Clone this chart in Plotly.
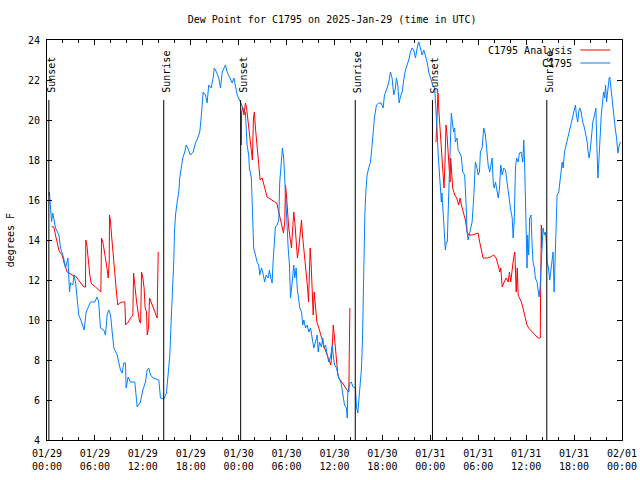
import pandas as pd
import plotly.graph_objects as go

BASE = "2025-01-29 00:00"

# Station observations (hours after BASE, dew point in F)
obs_hours = [0.23, 0.3, 0.57, 0.72, 1.07, 1.49, 1.69, 2.09, 2.32, 2.62, 2.82, 2.95, 3.24, 3.37, 3.57, 3.78, 3.98,
             4.32, 4.65, 4.9, 5.15, 5.45, 5.98, 6.27, 6.47, 6.69, 7.11, 7.32, 7.53, 7.74, 7.95, 8.16, 8.37, 8.79,
             8.99, 9.2, 9.41, 9.62, 9.83, 9.91, 10.16, 10.46, 11.0, 11.29, 11.7, 12.0, 12.33, 12.54, 12.74, 12.96,
             13.29, 14.0, 14.21, 14.63, 14.96, 15.13, 15.38, 15.54, 15.76, 15.88, 15.96, 16.09, 16.3, 16.5, 16.62,
             16.8, 17.0, 17.25, 17.42, 17.63, 17.95, 18.3, 18.59, 18.88, 19.13, 19.3, 19.43, 19.55, 19.85, 20.05,
             20.25, 20.55, 20.8, 20.95, 21.22, 21.51, 21.72, 21.94, 22.23, 22.35, 22.56, 22.89, 23.19, 23.4, 23.61,
             23.82, 24.1,
             24.43, 24.63, 24.84, 24.97, 25.05, 25.26, 25.34, 25.59, 25.68, 25.88, 26.1, 26.31, 26.51, 26.64, 26.85,
             27.01, 27.26, 27.44, 27.69, 27.85, 28.02, 28.19, 28.31, 28.44, 28.6, 28.81, 29.02, 29.14, 29.32, 29.48,
             29.64, 29.77, 29.95, 30.07, 30.2, 30.36, 30.49, 30.7, 30.9, 31.03, 31.2, 31.33, 31.53, 31.66, 31.87,
             32.03, 32.16, 32.37, 32.58, 32.79, 33.0, 33.2, 33.41, 33.62, 33.83, 33.96, 34.12, 34.37, 34.54, 34.66,
             34.88, 35.09, 35.29, 35.5, 35.72, 35.84, 36.0, 36.25, 36.54, 36.83, 37.04, 37.25, 37.5, 37.59, 37.67,
             37.92, 38.09, 38.34, 38.63, 38.75, 38.92, 39.09, 39.25, 39.38, 39.51, 39.59, 39.67, 39.8, 39.92, 40.08,
             40.29, 40.5, 40.71, 40.84, 41.0, 41.25, 41.54, 41.84, 42.09, 42.26, 42.51, 42.8, 43.0, 43.21, 43.42,
             43.63, 43.75, 43.92, 44.09, 44.25, 44.47, 44.67, 44.88, 45.09, 45.3, 45.51, 45.72, 45.92, 46.14, 46.35,
             46.55, 46.76, 46.97, 47.18, 47.39, 47.6, 47.8, 47.99,
             48.29, 48.54, 48.75, 48.88, 48.96, 49.13, 49.25, 49.38, 49.46, 49.59, 49.75, 49.88, 50.0, 50.13, 50.21,
             50.38, 50.51, 50.63, 50.8, 50.92, 51.05, 51.13, 51.34, 51.47, 51.63, 51.89, 52.05, 52.3, 52.48, 52.6,
             52.73, 52.89, 53.1, 53.23, 53.43, 53.56, 53.64, 53.86, 53.98, 54.15, 54.27, 54.48, 54.69, 54.9, 55.11,
             55.24, 55.44, 55.62, 55.74, 55.87, 55.99, 56.16, 56.32, 56.5, 56.66, 56.82, 57.0, 57.19, 57.41, 57.62,
             57.82, 58.03, 58.25, 58.37, 58.5, 58.66, 58.79, 59.0, 59.16, 59.37, 59.58, 59.7, 59.8, 59.9, 60.03,
             60.11, 60.19, 60.32, 60.44, 60.61, 60.74, 60.86, 61.03, 61.15, 61.36, 61.49, 61.61, 61.74, 61.86, 61.99,
             62.11, 62.28, 62.4, 62.53, 62.62, 62.79, 62.95, 63.13, 63.25, 63.37, 63.5, 63.62, 63.71, 63.87, 64.08,
             64.21, 64.38, 64.51, 64.63, 64.8, 65.0, 65.2, 65.45, 65.63, 65.83, 66.04, 66.17, 66.29, 66.46, 66.58,
             66.71, 66.88, 67.08, 67.3, 67.46, 67.64, 67.76, 67.89, 68.05, 68.18, 68.35, 68.56, 68.73, 68.85, 68.98,
             69.1, 69.23, 69.4, 69.57, 69.69, 69.82, 69.94, 70.07, 70.22, 70.39, 70.47, 70.65, 70.81, 70.98, 71.15,
             71.32, 71.48, 71.66, 71.82]
obs_dewpt = [16.25, 16.4, 14.9, 15.35, 14.6, 14.25, 13.6, 13.1, 12.6, 13.1, 11.4, 11.85, 11.75, 12.25, 11.9, 10.9, 10.25,
             9.9, 9.5, 10.4, 10.6, 10.9, 10.9, 11.15, 10.9, 9.6, 9.5, 9.25, 10.25, 10.5, 10.25, 9.4, 8.6, 8.25,
             7.9, 7.5, 7.35, 7.85, 7.85, 6.6, 7.15, 6.9, 6.9, 5.65, 5.9, 6.5, 6.9, 7.5, 7.6, 7.25,
             7.1, 7.0, 6.1, 6.05, 6.35, 7.25, 8.25, 9.9, 11.6, 13.0, 14.4, 15.25, 15.9, 16.4, 17.1,
             17.6, 18.1, 18.4, 18.75, 18.6, 18.25, 18.4, 18.85, 19.1, 19.4, 20.1, 20.9, 21.4, 21.25, 20.85,
             21.75, 21.6, 22.1, 22.6, 22.4, 22.1, 21.6, 22.4, 22.65, 22.75, 22.4, 22.15, 21.85, 22.1, 21.65,
             21.25, 21.0,
             20.65, 20.5, 20.4, 19.6, 18.75, 18.25, 17.6, 17.1, 15.6, 13.6, 13.25, 12.9, 12.75, 12.25, 12.6,
             12.4, 11.9, 12.25, 12.1, 12.5, 12.1, 11.85, 12.9, 13.9, 14.65, 14.75, 15.0, 16.9, 17.9, 18.6,
             18.1, 16.9, 15.6, 14.6, 13.6, 12.75, 11.1, 11.9, 12.75, 12.1, 12.6, 11.6, 11.1, 10.6, 10.4,
             9.75, 10.0, 9.6, 9.75, 9.4, 9.6, 9.1, 8.6, 8.9, 9.25, 8.4, 8.9, 8.65, 9.1, 8.6,
             8.75, 8.25, 7.9, 8.15, 8.75, 8.25, 7.75, 7.6, 7.1, 6.85, 6.25, 5.75, 5.6, 5.1, 6.4,
             6.85, 6.9, 6.65, 6.6, 5.65, 5.35, 6.25, 6.9, 7.6, 9.1, 11.25, 13.25, 15.25, 16.4, 17.25,
             17.6, 17.9, 18.75, 19.4, 20.1, 20.75, 20.85, 20.85, 20.6, 21.25, 21.5, 21.9, 22.4, 22.1, 21.25,
             21.6, 22.1, 21.75, 20.85, 21.15, 21.4, 22.0, 22.5, 22.75, 23.0, 23.4, 23.6, 23.5, 23.1, 23.6,
             23.9, 23.6, 23.25, 23.5, 23.25, 22.9, 22.4, 22.1,
             21.75, 21.6, 20.4, 19.25, 18.4, 17.25, 16.25, 15.9, 16.35, 15.6, 14.25, 13.5, 13.9, 13.9, 15.1,
             17.6, 19.6, 20.35, 19.75, 19.4, 19.6, 18.9, 19.1, 18.5, 18.4, 18.15, 17.4, 17.25, 15.75, 14.4,
             14.0, 14.35, 14.6, 14.9, 16.1, 17.25, 17.9, 17.6, 17.25, 17.4, 18.4, 18.6, 19.6, 19.25, 18.25,
             17.75, 17.4, 17.75, 18.1, 16.9, 16.6, 16.9, 16.4, 16.1, 16.6, 17.75, 17.25, 17.6, 17.5, 16.75,
             16.25, 15.6, 15.1, 14.1, 14.9, 17.6, 18.1, 17.9, 18.35, 18.4, 17.9, 19.0, 17.9, 15.75, 13.6,
             12.6, 14.25, 13.25, 15.1, 15.25, 13.75, 12.9, 12.6, 12.1, 11.9, 11.4, 11.15, 11.6, 12.9, 13.75,
             14.6, 14.25, 14.4, 13.9, 12.9, 12.6, 12.0, 12.6, 12.9, 13.4, 11.4, 12.9, 14.9, 16.25, 16.4,
             16.9, 17.6, 17.9, 17.6, 18.4, 18.75, 19.1, 19.4, 19.75, 20.1, 20.6, 20.75, 20.25, 19.9, 20.4,
             20.6, 20.4, 19.9, 19.6, 19.25, 18.9, 18.4, 18.1, 18.6, 19.4, 19.9, 20.25, 20.6, 18.75, 17.1,
             17.9, 19.25, 20.25, 20.9, 21.4, 21.1, 21.75, 20.9, 21.6, 22.1, 22.15, 21.4, 20.9, 20.25, 19.6,
             19.1, 18.35, 18.75, 18.9]

# Analysis (None marks a break between night-time segments)
ana_hours = [0.56, 0.85, 1.06, 1.27, 1.48, 1.68, 1.89, 2.11, 2.31, 2.52, 2.73, 3.15, 3.57, 3.98, 4.32, 4.61, 4.82,
             4.86, 4.99, 5.07, 5.24, 5.36, 5.53, 5.74, 6.08, 6.49, 6.74, 6.83, 6.99, 7.16, 7.33, 7.49, 7.66, 7.79,
             7.83, 7.96, 8.08, 8.25, 8.42, 8.58, 8.75, 8.87, 9.08, 9.42, 9.75, 9.84, 10.17, 10.47, 10.75, 10.84,
             10.93, 11.09, 11.22, 11.43, 11.59, 11.72, 11.84, 12.0, 12.16, 12.29, 12.46, 12.55, 12.71, 12.84, 13.05,
             13.3, 13.55, 13.8, 13.84, 13.93, None,
             24.34, 24.36, 24.5, 24.67, 24.84, 24.97, 25.09, 25.26, 25.43, 25.59, 25.72, 25.85, 25.97, 26.1, 26.26,
             26.39, 26.56, 26.69, 26.94, 27.14, 27.35, 27.56, 27.77, 28.1, 28.52, 28.77, 28.9, 29.06, 29.23, 29.44,
             29.61, 29.77, 29.86, 29.98, 30.11, 30.27, 30.44, 30.61, 30.77, 30.9, 31.03, 31.2, 31.36, 31.53, 31.7,
             31.87, 31.99, 32.16, 32.29, 32.46, 32.63, 32.75, 32.87, 32.95, 33.08, 33.21, 33.33, 33.46, 33.62, 33.79,
             34.04, 34.25, 34.46, 34.71, 34.96, 35.21, 35.38, 35.54, 35.72, 35.84, 35.97, 36.09, 36.26, 36.42, 36.55,
             36.76, 36.97, 37.17, 37.39, 37.6, 37.8, 37.85, 37.93, None,
             48.71, 48.83, 48.96, 49.08, 49.21, 49.33, 49.46, 49.59, 49.71, 49.84, 49.96, 50.09, 50.21, 50.34, 50.47,
             50.55, 50.67, 50.8, 51.05, 51.3, 51.55, 51.73, 51.89, 52.14, 52.39, 52.6, 52.81, 53.23, 53.64, 53.98,
             54.18, 54.39, 54.6, 55.11, 55.52, 55.94, 56.24, 56.49, 56.7, 56.82, 57.0, 57.25, 57.5, 57.75, 57.91,
             58.07, 58.25, 58.42, 58.58, 58.66, 58.75, 58.88, 59.0, 59.16, 59.41, 59.66, 59.87, 60.1, 60.31, 60.52,
             60.73, 60.93, 61.14, 61.36, 61.56, 61.77, 61.81, 61.85, 61.9, 61.94]
ana_dewpt = [14.67, 14.65, 14.25, 13.9, 13.5, 13.35, 13.25, 12.9, 12.6, 12.4, 12.35, 12.25, 12.2, 12.0, 11.85, 11.65, 11.65,
             14.0, 13.75, 13.4, 12.9, 12.25, 11.85, 11.75, 11.65, 11.5, 11.4, 14.1, 13.9, 13.5, 13.1, 12.65, 12.1, 12.9,
             15.25, 14.9, 14.25, 13.4, 12.4, 11.6, 11.15, 10.75, 10.85, 10.9, 10.9, 9.75, 9.9, 10.1, 10.25, 12.35,
             12.1, 11.4, 10.9, 10.4, 9.9, 9.85, 12.4, 12.1, 11.6, 10.6, 10.4, 9.25, 9.6, 11.1, 10.9,
             10.65, 10.4, 10.1, 11.4, 13.4, None,
             18.75, 20.35, 20.65, 20.25, 20.85, 20.65, 20.25, 19.6, 19.1, 18.6, 18.0, 20.1, 20.4, 19.6, 18.9,
             18.35, 17.6, 17.0, 17.1, 16.75, 16.4, 16.15, 16.1, 16.0, 15.9, 15.85, 15.6, 15.25, 14.9, 14.6,
             14.35, 14.9, 16.75, 16.25, 15.4, 14.6, 14.1, 13.6, 14.6, 15.4, 14.9, 13.9, 13.1, 13.6, 14.15,
             15.0, 14.25, 13.6, 12.9, 12.25, 11.6, 10.9, 12.6, 13.6, 12.75, 11.6, 10.25, 11.4, 10.6, 9.9,
             9.6, 9.25, 9.0, 8.65, 8.4, 8.15, 7.9, 7.75, 8.6, 9.75, 9.25, 8.6, 7.75, 7.25, 7.1,
             7.0, 6.85, 6.75, 6.6, 6.5, 6.4, 8.4, 10.6, None,
             18.9, 20.25, 21.35, 20.4, 19.6, 18.9, 18.1, 17.4, 16.6, 17.9, 19.75, 19.25, 18.4, 17.6, 16.9,
             18.1, 17.25, 16.6, 16.25, 16.1, 15.75, 16.1, 15.75, 15.4, 15.0, 14.4, 14.25, 14.25, 14.3, 14.35,
             13.9, 13.4, 13.1, 13.1, 13.15, 13.25, 13.1, 12.75, 12.4, 12.6, 11.65, 11.9, 12.1, 11.9, 12.4,
             11.9, 12.6, 13.1, 13.4, 12.6, 11.4, 12.6, 11.25, 11.1, 10.9, 10.5, 10.2, 9.75, 9.6, 9.5,
             9.45, 9.35, 9.25, 9.15, 9.1, 9.1, 11.5, 12.9, 14.75, 13.6]

sun_times = ["2025-01-29 00:14", "2025-01-29 14:37", "2025-01-30 00:15",
             "2025-01-30 14:36", "2025-01-31 00:16", "2025-01-31 14:35"]
sun_labels = ["Sunset", "Sunrise", "Sunset", "Sunrise", "Sunset", "Sunrise"]

y_ticks = [4, 6, 8, 10, 12, 14, 16, 18, 20, 22, 24]

base = pd.Timestamp(BASE)


def to_time(hours):
    return [None if h is None else base + pd.Timedelta(hours=h) for h in hours]


FONT = "DejaVu Sans Mono"
RED = "#ff0000"
BLUE = "#0080ff"

fig = go.Figure()
fig.add_trace(go.Scatter(x=to_time(ana_hours), y=ana_dewpt, mode="lines",
                         line=dict(color=RED, width=1), name="C1795 Analysis",
                         connectgaps=False))
fig.add_trace(go.Scatter(x=to_time(obs_hours), y=obs_dewpt, mode="lines",
                         line=dict(color=BLUE, width=1), name="C1795"))

for t, lab in zip(sun_times, sun_labels):
    fig.add_shape(type="line", xref="x", yref="y", x0=t, x1=t, y0=4, y1=21,
                  line=dict(color="black", width=1))
    fig.add_annotation(x=t, y=21, xref="x", yref="y", text=lab, textangle=-90,
                       showarrow=False, xanchor="center", yanchor="bottom",
                       xshift=2, yshift=5, font=dict(family=FONT, size=10, color="black"))

# custom legend (text on the left, line sample on the right, like the original)
legend_rows = [("C1795 Analysis", RED, 0.975), ("C1795", BLUE, 0.9425)]
for txt, col, yy in legend_rows:
    fig.add_annotation(x=0.917, y=yy, xref="paper", yref="paper", text=txt,
                       showarrow=False, xanchor="right", yanchor="middle",
                       font=dict(family=FONT, size=10, color="black"))
    fig.add_shape(type="line", xref="paper", yref="paper", x0=0.9275, x1=0.9797,
                  y0=yy, y1=yy, line=dict(color=col, width=1))

fig.add_annotation(x=-0.064, y=0.5, xref="paper", yref="paper", text="degrees F",
                   textangle=-90, showarrow=False, xanchor="center", yanchor="middle",
                   font=dict(family=FONT, size=10, color="black"))

fig.update_layout(
    width=640, height=480,
    margin=dict(l=47, r=18, t=40, b=40),
    paper_bgcolor="white", plot_bgcolor="white",
    showlegend=False,
    font=dict(family=FONT, size=10, color="black"),
    title=dict(text="Dew Point for C1795 on 2025-Jan-29 (time in UTC)",
               x=0.519, xanchor="center", y=1 - 19 / 480, yanchor="middle",
               xref="container", yref="container",
               font=dict(family=FONT, size=10, color="black")),
)
fig.update_xaxes(
    range=["2025-01-29 00:00", "2025-02-01 00:00"],
    tick0="2025-01-29 00:00", dtick=6 * 3600 * 1000,
    tickformat="%m/%d<br>%H:%M",
    showline=True, linecolor="black", linewidth=1, mirror="ticks",
    ticks="inside", ticklen=5, tickcolor="black",
    minor=dict(dtick=2 * 3600 * 1000, ticks="inside", ticklen=3, tickcolor="black"),
    showgrid=False, zeroline=False, automargin=False,
    ticklabelstandoff=4,
    tickfont=dict(family=FONT, size=10, color="black"),
)
fig.update_yaxes(
    range=[4, 24], tickvals=y_ticks,
    showline=True, linecolor="black", linewidth=1, mirror="ticks",
    ticks="inside", ticklen=5, tickcolor="black",
    showgrid=False, zeroline=False, automargin=False,
    ticklabelstandoff=4,
    tickfont=dict(family=FONT, size=10, color="black"),
)

fig.write_html("out.html", config={"displayModeBar": False},
               post_script="document.body.style.margin='0px';")
